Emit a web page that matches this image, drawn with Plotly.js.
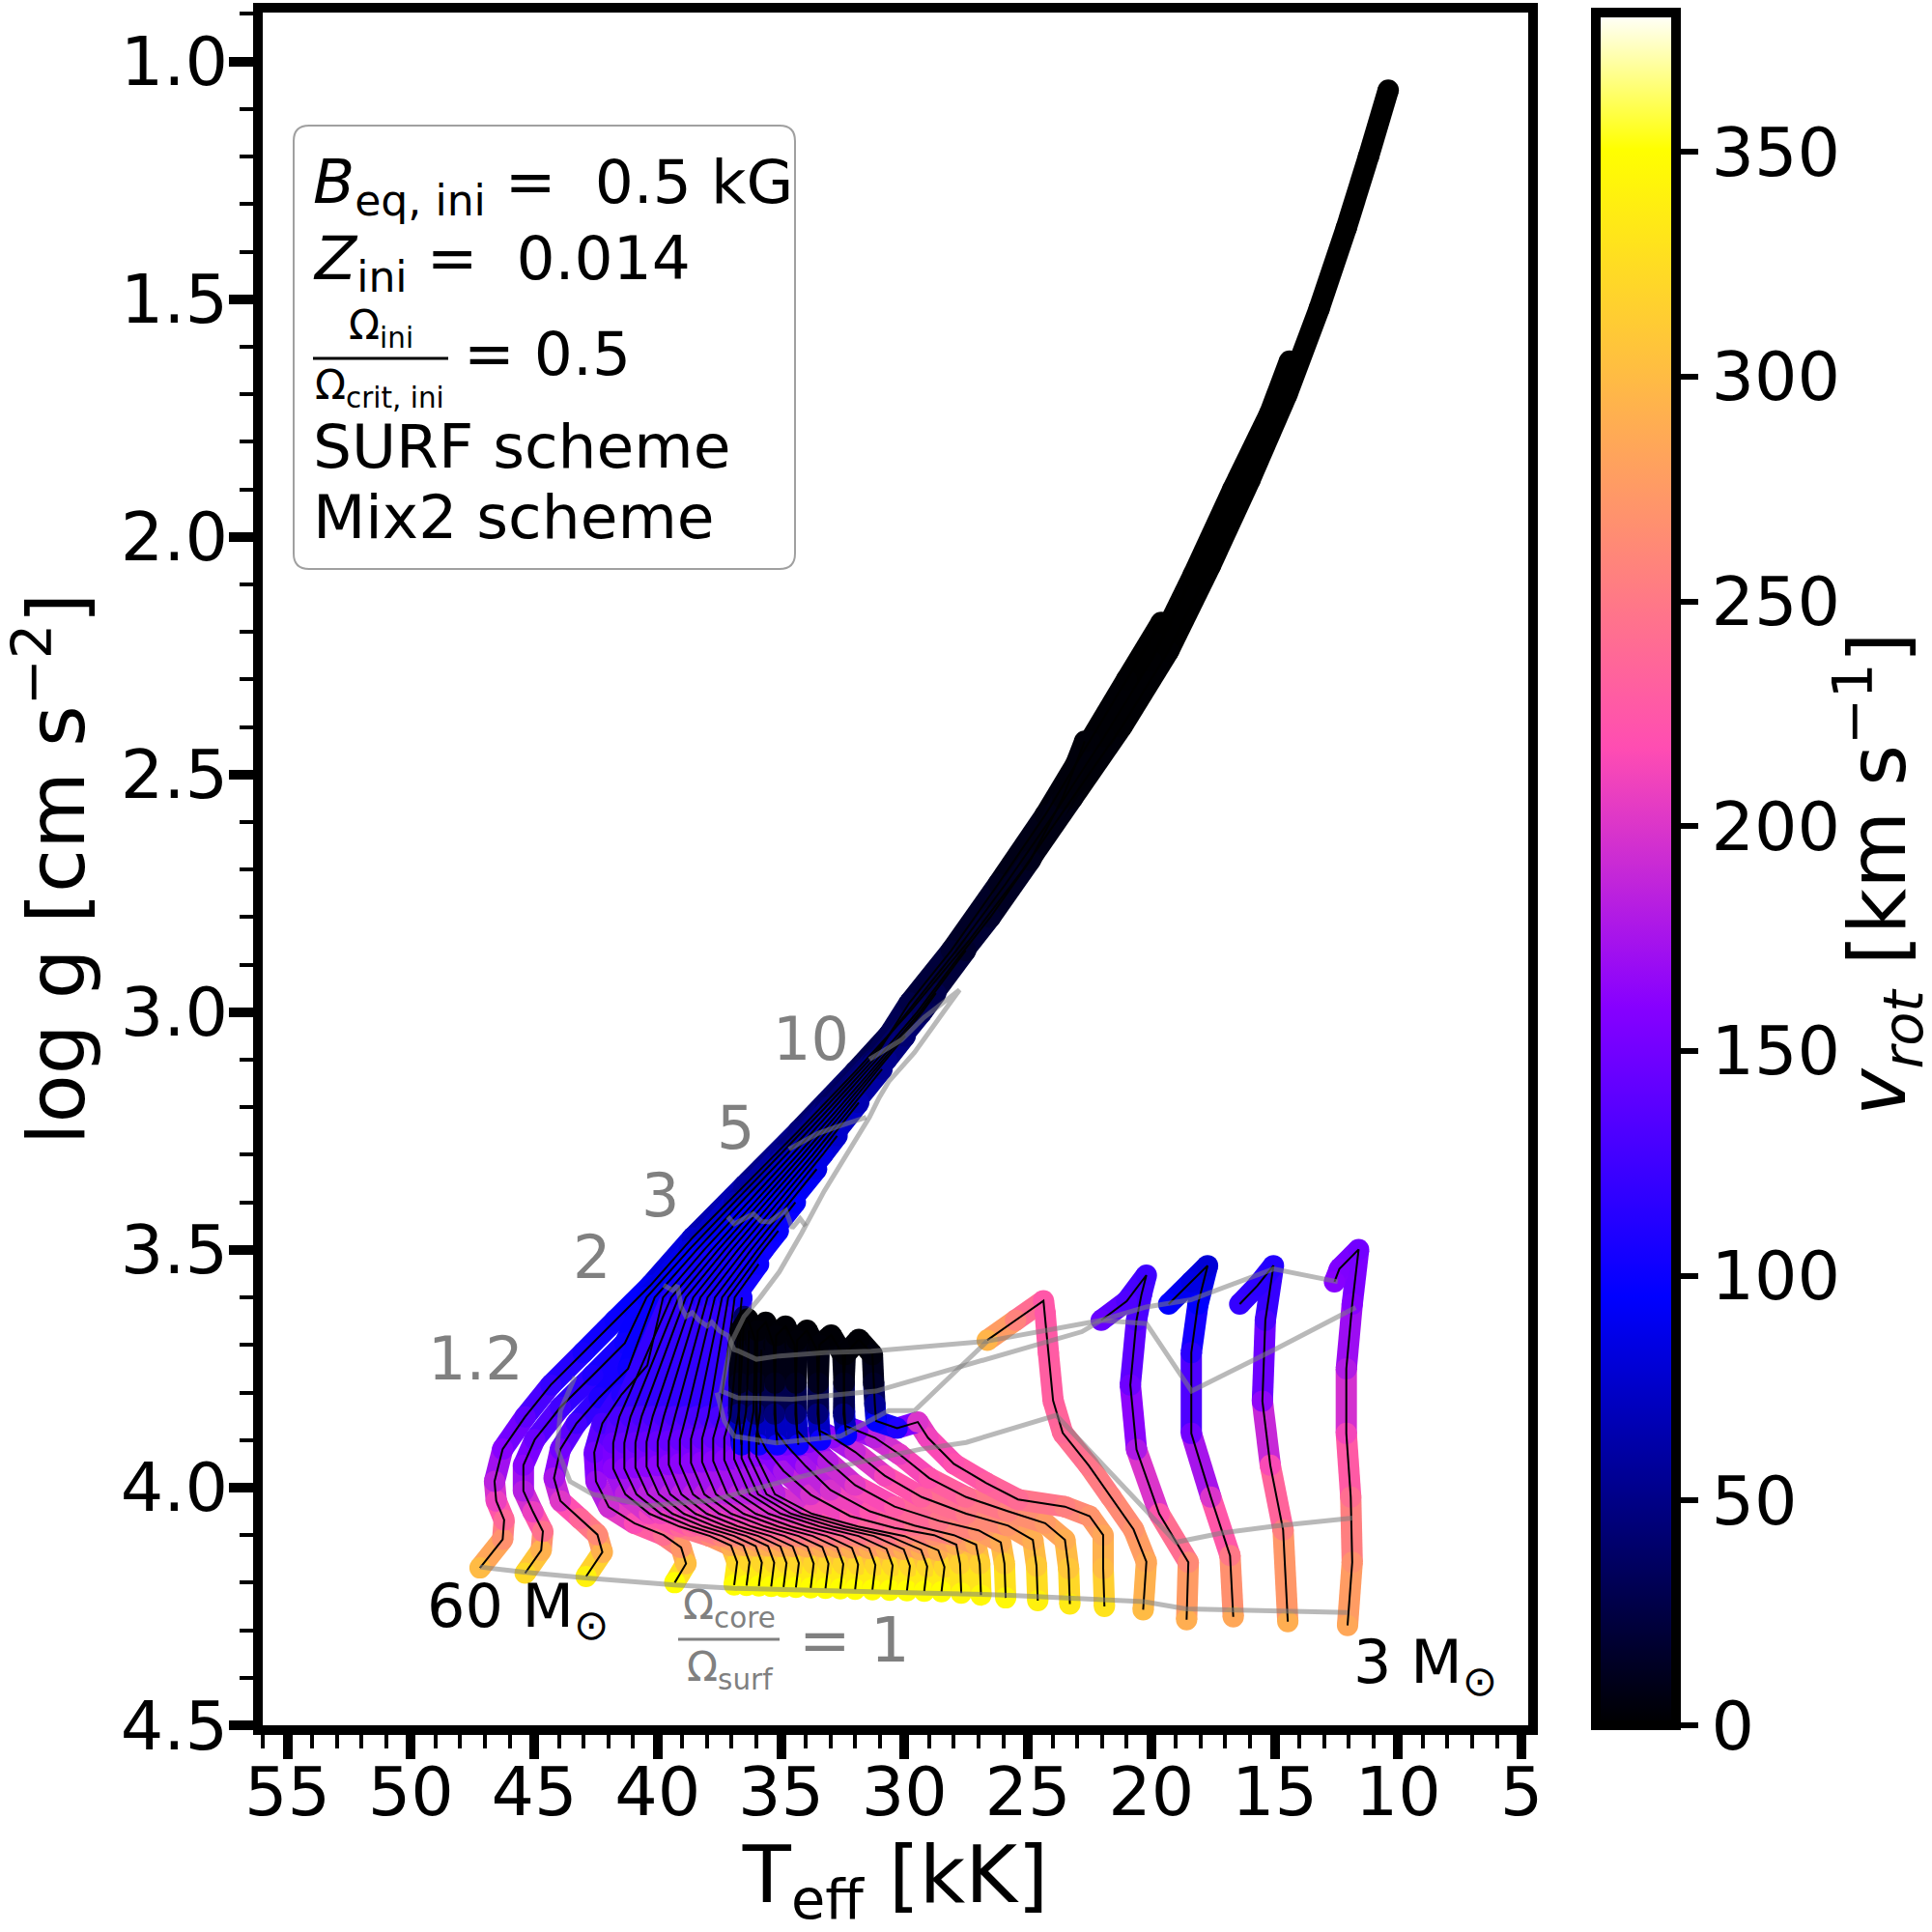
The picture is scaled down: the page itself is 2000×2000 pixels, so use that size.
<!DOCTYPE html>
<html><head><meta charset="utf-8">
<script src="https://cdn.plot.ly/plotly-3.0.1.min.js"></script>
<style>html,body{margin:0;padding:0;background:#fff;}#chart{width:2000px;height:2000px;}</style>
</head><body><div id="chart"></div>
<script>
// ---------------- DATA ----------------
// Evolutionary tracks, most massive (60 Msun) first, 3 Msun last.
const TRACK_LABELS = ['60','S2','S3','S4','d1','d2','d3','d4','d5','d6','d7','d8','d9','d10','d11','d12','d13','d14','d15','h1','h2','h3','h4','h5','h6','L1','L2','L3','L4','3'];
const TEFF = [
 [47.2,46.28,46.22,46.54,46.61,46.28,45.37,44.33,43.02,41.72,40.3,38.6,36.5,34.3,32.0,29.8,27.4,25.2,23.2,21.2,19.3,17.6,16.0,14.5,13.2,12.1,11.2,10.4],
 [45.37,44.72,44.65,45.05,45.44,45.44,44.98,43.94,42.63,41.33,40.45,38.73,36.9,35.03,33.2,31.42,29.9,27.9,25.9,23.9,21.9,20.0,18.3,16.7,15.2,14.4],
 [42.9,42.24,42.44,43.15,43.94,44.2,43.94,43.29,42.37,41.2,40.12,38.42,36.63,34.8,33.01,31.27,29.8,28.1,26.2,24.3,22.5,21.0,19.6],
 [39.31,38.85,39.05,39.76,40.94,41.98,42.5,42.57,42.24,41.46,40.42,39.78,38.12,36.35,34.56,32.83,31.13,29.49,28.04,26.52,24.9,23.6,22.7],
 [36.9,36.78,37.03,37.88,39.11,40.33,41.31,41.8,41.8,41.55,39.45,37.81,36.08,34.33,32.64,30.98,29.38,27.52],
 [36.4,36.28,36.53,37.39,38.63,39.87,40.86,41.35,41.35,41.1,39.15,37.55,35.84,34.13,32.48,30.86,29.29,28.73],
 [35.9,35.78,36.03,36.9,38.15,39.4,40.4,40.9,40.9,40.65,38.86,37.28,35.61,33.93,32.32,30.73,29.97],
 [35.4,35.28,35.53,36.41,37.67,38.94,39.95,40.45,40.45,40.2,38.56,37.02,35.37,33.72,32.16,30.91],
 [34.9,34.78,35.03,35.92,37.2,38.47,39.49,40.0,40.0,39.75,38.27,36.75,35.13,33.52,31.85],
 [34.4,34.28,34.53,35.43,36.72,38.01,39.04,39.55,39.55,39.3,37.98,36.48,34.89,33.32,32.73],
 [33.8,33.68,33.93,34.86,36.19,37.51,38.57,39.1,39.1,38.85,37.68,36.22,34.65,33.56],
 [33.2,33.08,33.33,34.29,35.65,37.02,38.11,38.65,38.65,38.4,37.39,35.95,34.42],
 [32.6,32.48,32.73,33.72,35.12,36.52,37.64,38.2,38.2,37.95,37.14,35.72,35.11],
 [32.0,31.88,32.13,33.15,34.59,36.03,37.18,37.75,37.75,37.5,36.88,35.91],
 [31.3,31.18,31.43,32.5,34.0,35.5,36.7,37.3,37.3,37.05,36.59],
 [30.6,30.48,30.73,31.86,33.44,35.01,36.27,36.9,36.9,36.7,36.6,36.5],
 [29.9,29.78,30.03,31.24,32.92,34.59,35.93,36.6,36.6,36.42,36.35,36.3],
 [29.2,29.08,29.33,30.62,32.4,34.17,35.59,36.3,36.3,36.12,36.08,36.05],
 [28.5,28.38,28.63,30.0,31.88,33.75,35.25,36.0,36.0,35.85,35.82,35.8],
 [27.7,27.75,27.9,28.8,30.4,32.2,33.8,34.9,35.6,35.95,35.98,36.0,36.05,36.35,36.65,36.7,36.72,36.6],
 [26.9,26.95,27.1,28.0,29.6,31.4,33.0,34.0,34.8,35.2,35.23,35.25,35.3,35.62,35.95,36.0,36.02,35.9],
 [25.9,25.95,26.1,27.0,28.6,30.4,32.0,33.1,33.9,34.35,34.38,34.4,34.45,34.82,35.2,35.25,35.27,35.15],
 [24.6,24.65,24.8,25.8,27.5,29.3,30.8,32.0,32.9,33.45,33.48,33.5,33.55,33.95,34.35,34.4,34.42,34.3],
 [23.3,23.35,23.5,24.3,25.8,27.5,29.0,30.2,31.2,31.9,32.4,32.43,32.45,32.5,32.97,33.45,33.5,33.52,33.4],
 [21.9,21.95,21.95,22.5,23.5,25.4,26.7,28.0,29.05,29.46,30.3,31.15,31.2,31.25,31.3,31.85,32.4,32.45,32.47,32.35],
 [20.33,20.2,20.72,21.63,22.54,23.59,23.98,24.17,24.3,24.37,25.5,26.65],
 [18.57,18.5,19.68,20.6,20.85,20.6,20.4,20.2,21.0,22.03],
 [16.68,16.81,17.59,18.38,18.38,18.11,17.72,18.38,19.3],
 [14.47,14.66,15.18,15.5,15.38,15.05,15.7,16.42],
 [12.05,11.86,11.92,12.1,12.1,11.86,11.6,12.38,12.58]
];
const LOGG = [
 [4.169,4.109,4.068,4.028,3.987,3.919,3.851,3.784,3.716,3.648,3.575,3.475,3.365,3.25,3.125,3.0,2.85,2.7,2.55,2.4,2.24,2.06,1.88,1.7,1.52,1.35,1.2,1.06],
 [4.18,4.132,4.092,4.051,4.007,3.953,3.899,3.831,3.764,3.696,3.6,3.5,3.4,3.3,3.2,3.1,3.0,2.87,2.73,2.58,2.42,2.26,2.08,1.9,1.74,1.63],
 [4.187,4.136,4.099,4.065,4.028,3.98,3.919,3.865,3.811,3.75,3.6,3.5,3.4,3.3,3.2,3.1,2.98,2.87,2.73,2.585,2.43,2.3,2.18],
 [4.2,4.16,4.126,4.1,4.075,4.041,3.987,3.926,3.865,3.804,3.743,3.6,3.5,3.4,3.3,3.2,3.1,3.0,2.9,2.8,2.68,2.55,2.43],
 [4.205,4.157,4.122,4.102,4.082,4.055,4.014,3.96,3.906,3.851,3.6,3.5,3.4,3.3,3.2,3.1,3.0,2.87],
 [4.206,4.157,4.122,4.102,4.082,4.055,4.014,3.96,3.906,3.851,3.6,3.5,3.4,3.3,3.2,3.1,3.0,2.96],
 [4.207,4.158,4.123,4.102,4.082,4.055,4.014,3.958,3.905,3.85,3.6,3.5,3.4,3.3,3.2,3.1,3.05],
 [4.208,4.158,4.123,4.102,4.082,4.055,4.014,3.956,3.904,3.85,3.6,3.5,3.4,3.3,3.2,3.12],
 [4.209,4.159,4.124,4.102,4.082,4.055,4.014,3.954,3.903,3.85,3.6,3.5,3.4,3.3,3.19],
 [4.21,4.159,4.124,4.102,4.082,4.055,4.014,3.952,3.902,3.85,3.6,3.5,3.4,3.3,3.26],
 [4.211,4.16,4.125,4.102,4.082,4.055,4.014,3.95,3.9,3.85,3.6,3.5,3.4,3.33],
 [4.212,4.16,4.125,4.102,4.082,4.055,4.014,3.948,3.898,3.85,3.6,3.5,3.4],
 [4.213,4.161,4.126,4.102,4.082,4.055,4.014,3.946,3.897,3.85,3.6,3.5,3.46],
 [4.214,4.162,4.127,4.102,4.082,4.055,4.014,3.944,3.896,3.85,3.6,3.53],
 [4.215,4.163,4.128,4.102,4.082,4.055,4.014,3.942,3.895,3.85,3.6],
 [4.216,4.164,4.129,4.102,4.082,4.055,4.014,3.94,3.894,3.84,3.74,3.64],
 [4.217,4.165,4.13,4.102,4.082,4.055,4.014,3.938,3.893,3.84,3.76,3.67],
 [4.218,4.166,4.131,4.102,4.082,4.055,4.014,3.936,3.892,3.84,3.77,3.69],
 [4.219,4.167,4.132,4.102,4.082,4.055,4.014,3.934,3.891,3.84,3.78,3.71],
 [4.222,4.16,4.12,4.10,4.085,4.06,4.015,3.965,3.92,3.885,3.845,3.78,3.69,3.645,3.67,3.78,3.845,3.91],
 [4.226,4.16,4.12,4.10,4.08,4.05,4.005,3.955,3.91,3.882,3.845,3.78,3.70,3.652,3.67,3.78,3.845,3.91],
 [4.232,4.16,4.115,4.09,4.07,4.04,3.995,3.945,3.905,3.88,3.845,3.78,3.70,3.66,3.68,3.78,3.845,3.91],
 [4.238,4.165,4.11,4.08,4.055,4.02,3.975,3.925,3.895,3.88,3.845,3.78,3.71,3.669,3.69,3.78,3.845,3.91],
 [4.245,4.17,4.11,4.075,4.05,4.02,3.98,3.93,3.895,3.88,3.87,3.84,3.78,3.72,3.679,3.70,3.78,3.845,3.90],
 [4.25,4.17,4.10,4.06,4.04,4.025,3.99,3.95,3.895,3.862,3.875,3.86,3.825,3.78,3.72,3.688,3.72,3.78,3.845,3.89],
 [4.257,4.156,4.088,4.02,3.953,3.885,3.817,3.716,3.634,3.607,3.648,3.69],
 [4.278,4.157,4.055,3.92,3.784,3.648,3.594,3.553,3.608,3.648],
 [4.272,4.143,4.02,3.886,3.716,3.614,3.533,3.567,3.614],
 [4.282,4.089,3.953,3.818,3.648,3.533,3.575,3.614],
 [4.29,4.157,4.02,3.886,3.75,3.614,3.499,3.54,3.567]
];
const VROT = [
 [300,268,238,208,185,160,140,120,106,100,92,75,58,45,34,25,16,9,5,2,1,0,0,0,0,0,0,0],
 [322,292,245,208,182,162,146,126,110,102,95,82,66,52,40,30,22,14,8,4,2,1,0,0,0,0],
 [340,292,262,236,202,176,150,128,110,102,97,88,74,60,47,36,26,18,11,6,3,1,0],
 [350,302,272,242,216,194,170,150,130,112,103,98,92,80,66,54,42,32,23,16,10,5,3],
 [350,320,290,262,236,210,185,163,145,130,108,98,86,72,58,42,28,16],
 [350,320,290,262,236,210,185,163,145,130,108,99,88,76,62,47,34,28],
 [350,320,290,262,236,210,185,163,145,130,108,100,90,79,66,52,42],
 [350,320,290,262,236,210,185,163,145,130,108,101,92,82,68,54],
 [350,320,290,262,236,210,185,163,145,130,108,102,94,82,66],
 [350,320,290,262,236,210,185,163,145,130,108,102,96,85,76],
 [350,320,290,262,236,210,185,163,145,130,108,103,97,86],
 [350,320,290,262,236,210,185,163,145,130,108,103,94],
 [350,320,290,262,236,210,185,163,145,130,108,102,98],
 [350,320,290,262,236,210,185,163,145,130,108,100],
 [350,320,290,262,236,210,185,163,145,130,105],
 [350,320,290,262,236,210,185,163,145,125,85,40],
 [350,320,290,262,236,210,185,163,145,120,70,25],
 [350,320,290,262,236,210,185,163,145,115,55,12],
 [350,320,290,262,236,210,185,163,145,110,45,6],
 [345,315,290,268,245,222,198,175,150,120,70,15,4,2,3,12,45,100],
 [345,315,290,268,245,222,198,175,150,120,70,15,4,2,3,12,45,100],
 [345,312,288,268,248,226,204,182,158,120,70,15,4,2,3,12,45,100],
 [340,310,290,272,252,232,212,190,165,120,70,15,4,2,3,12,45,100],
 [335,308,290,275,258,240,222,205,185,160,115,70,15,5,2,3,12,45,100],
 [330,300,285,270,255,240,230,220,210,200,110,95,55,15,5,2,3,12,45,95],
 [300,285,270,258,248,238,232,228,225,225,258,295],
 [290,262,222,178,148,132,127,125,133,145],
 [285,250,200,150,115,95,80,85,95],
 [290,255,215,165,130,112,116,120],
 [285,268,242,212,180,160,150,156,160]
];
// Omega_core / Omega_surf iso-lines (grey)
const ISO_TEFF = [
 [47.2,45.4,42.9,39.3,36.9,33.0,29.0,25.9,21.9,20.3,18.6,16.7,14.5,12.05],
 [43.35,43.94,44.07,43.55,42.63,40.42,37.81,35.2,32.6,29.33,27.5,23.85,19.0,17.1,14.98,11.85],
 [39.76,39.4,39.2,39.05,38.85,38.6,38.33,38.0,37.81,37.5,37.16,36.9,36.76,36.0,35.07,33.24,31.35,26.65,22.03,20.2,18.4,15.05,12.45],
 [37.16,36.9,36.12,35.8,35.47,34.81,34.55,34.23,34.0],
 [34.68,33.51,32.73,31.55],
 [31.42,30.12,29.21,27.77,28.29,29.6,30.64,31.03,31.42,32.2,33.25,34.16,35.07,35.85,36.5,37.03,37.35,37.42,36.76,34.55,32.59,31.16,22.81,22.03,20.2,18.37,14.98,11.72],
 [37.6,37.3,36.9,35.2,32.59,30.64,29.59,26.65]
];
const ISO_LOGG = [
 [4.167,4.178,4.19,4.205,4.212,4.218,4.222,4.226,4.235,4.24,4.255,4.258,4.26,4.263],
 [3.767,3.838,3.919,3.987,4.014,4.038,4.027,3.99,3.955,3.919,3.905,3.848,4.115,4.095,4.081,4.064],
 [3.574,3.585,3.575,3.62,3.64,3.632,3.648,3.66,3.652,3.67,3.68,3.71,3.712,3.73,3.723,3.716,3.713,3.692,3.648,3.62,3.605,3.54,3.567],
 [3.43,3.445,3.424,3.44,3.441,3.417,3.454,3.434,3.45],
 [3.288,3.255,3.241,3.221],
 [3.099,3.058,3.011,2.953,2.99,3.085,3.146,3.18,3.221,3.288,3.376,3.464,3.546,3.6,3.64,3.696,3.77,3.797,3.811,3.814,3.804,3.797,3.672,3.648,3.655,3.797,3.709,3.621],
 [3.80,3.86,3.892,3.906,3.892,3.838,3.838,3.692]
];
const ISO_LABEL_TEXT = ['10','5','3','2','1.2'];
const ISO_LABEL_TEFF = [33.79,36.84,39.88,42.67,47.36];
const ISO_LABEL_LOGG = [3.056,3.243,3.385,3.515,3.728];
const X_TICKS = [55,50,45,40,35,30,25,20,15,10,5];
const Y_TICKS = [1.0,1.5,2.0,2.5,3.0,3.5,4.0,4.5];
const CBAR_TICKS = [0,50,100,150,200,250,300,350];
const VMAX = 381;

// gnuplot2 colour map
const CS_STOPS = [[0,[0,0,0]],[0.0625,[0,0,64]],[0.125,[0,0,128]],[0.1875,[0,0,191]],[0.25,[0,0,255]],[0.30,[40,0,255]],[0.35,[80,0,255]],[0.42,[135,0,255]],[0.46,[167,20,235]],[0.5,[199,41,214]],[0.54,[231,61,194]],[0.5706,[255,77,178]],[0.6,[255,92,163]],[0.65,[255,117,138]],[0.7,[255,143,112]],[0.75,[255,168,87]],[0.8,[255,194,61]],[0.85,[255,219,36]],[0.92,[255,255,0]],[0.96,[255,255,128]],[1,[255,255,255]]];
const CS = CS_STOPS.map(s => [s[0], 'rgb(' + s[1].join(',') + ')']);
function colorAt(v){
  const t = Math.max(0, Math.min(1, v / VMAX));
  for (let i = 1; i < CS_STOPS.length; i++) {
    if (t <= CS_STOPS[i][0]) {
      const a = CS_STOPS[i-1], b = CS_STOPS[i];
      const f = (t - a[0]) / (b[0] - a[0]);
      return 'rgb(' + [0,1,2].map(j => Math.round(a[1][j] + (b[1][j]-a[1][j]) * f)).join(',') + ')';
    }
  }
  return 'rgb(255,255,255)';
}

// ---------------- LAYOUT GEOMETRY ----------------
const PL = 272, PR = 1582, PT = 13, PB = 1786;
const px = p => (p - PL) / (PR - PL);
const py = p => (PB - p) / (PB - PT);
const FONT = 'DejaVu Sans';
const GREY = 'rgb(128,128,128)';

// ---------------- TRACES ----------------
const traces = [];
const W = 22;
for (let k = 0; k < TEFF.length; k++) {
  const x = TEFF[k], y = LOGG[k], v = VROT[k];
  for (let i = 0; i < x.length - 1; i++) {
    traces.push({type:'scatter', mode:'lines', x:[x[i], x[i+1]], y:[y[i], y[i+1]],
      line:{color: colorAt((v[i] + v[i+1]) / 2), width: W}, hoverinfo:'skip', showlegend:false});
  }
  traces.push({type:'scatter', mode:'markers', x:x, y:y, name:TRACK_LABELS[k],
    marker:{size:W, color:v, coloraxis:'coloraxis', line:{width:0}}, hoverinfo:'skip', showlegend:false});
}
for (let k = 0; k < TEFF.length; k++) {
  traces.push({type:'scatter', mode:'lines', x:TEFF[k], y:LOGG[k], line:{color:'black', width:2},
    hoverinfo:'skip', showlegend:false});
}
for (let k = 0; k < ISO_TEFF.length; k++) {
  traces.push({type:'scatter', mode:'lines', x:ISO_TEFF[k], y:ISO_LOGG[k],
    line:{color:'rgba(128,128,128,0.55)', width:5}, hoverinfo:'skip', showlegend:false});
}

// ---------------- ANNOTATIONS & SHAPES ----------------
const ann = [];
for (let i = 0; i < ISO_LABEL_TEXT.length; i++) {
  ann.push({x:ISO_LABEL_TEFF[i], y:ISO_LABEL_LOGG[i], xref:'x', yref:'y', text:ISO_LABEL_TEXT[i],
    showarrow:false, xanchor:'center', yanchor:'middle', font:{family:FONT, size:62, color:GREY}});
}
ann.push({x:49.41, y:4.258, xref:'x', yref:'y', text:'60 M<sub>⊙</sub>', showarrow:false,
  xanchor:'left', yanchor:'middle', font:{family:FONT, size:62, color:'black'}});
ann.push({x:11.89, y:4.376, xref:'x', yref:'y', text:'3 M<sub>⊙</sub>', showarrow:false,
  xanchor:'left', yanchor:'middle', font:{family:FONT, size:62, color:'black'}});
// Omega_core/Omega_surf = 1 label
ann.push({x:px(755), y:py(1664), xref:'paper', yref:'paper', text:'Ω<sub>core</sub>', showarrow:false,
  xanchor:'center', yanchor:'middle', font:{family:FONT, size:42, color:GREY}});
ann.push({x:px(755), y:py(1728), xref:'paper', yref:'paper', text:'Ω<sub>surf</sub>', showarrow:false,
  xanchor:'center', yanchor:'middle', font:{family:FONT, size:42, color:GREY}});
ann.push({x:px(825), y:py(1698), xref:'paper', yref:'paper', text:'= 1', showarrow:false,
  xanchor:'left', yanchor:'middle', font:{family:FONT, size:64, color:GREY}});
// info box text
const BOXFONT = 63;
ann.push({x:px(322), y:py(193), xref:'paper', yref:'paper', text:'<i>B</i><sub>eq, ini</sub> =\u00a0 0.5 kG',
  showarrow:false, xanchor:'left', yanchor:'middle', font:{family:FONT, size:BOXFONT, color:'black'}});
ann.push({x:px(322), y:py(271), xref:'paper', yref:'paper', text:'<i>Z</i><sub>ini</sub> =\u00a0 0.014',
  showarrow:false, xanchor:'left', yanchor:'middle', font:{family:FONT, size:BOXFONT, color:'black'}});
ann.push({x:px(394), y:py(340), xref:'paper', yref:'paper', text:'Ω<sub>ini</sub>',
  showarrow:false, xanchor:'center', yanchor:'middle', font:{family:FONT, size:42, color:'black'}});
ann.push({x:px(393), y:py(401), xref:'paper', yref:'paper', text:'Ω<sub>crit, ini</sub>',
  showarrow:false, xanchor:'center', yanchor:'middle', font:{family:FONT, size:42, color:'black'}});
ann.push({x:px(478), y:py(366), xref:'paper', yref:'paper', text:'= 0.5',
  showarrow:false, xanchor:'left', yanchor:'middle', font:{family:FONT, size:BOXFONT, color:'black'}});
ann.push({x:px(322), y:py(463), xref:'paper', yref:'paper', text:'SURF scheme',
  showarrow:false, xanchor:'left', yanchor:'middle', font:{family:FONT, size:BOXFONT, color:'black'}});
ann.push({x:px(322), y:py(535), xref:'paper', yref:'paper', text:'Mix2 scheme',
  showarrow:false, xanchor:'left', yanchor:'middle', font:{family:FONT, size:BOXFONT, color:'black'}});
// colour-bar title (rotated)
ann.push({x:px(1944), y:py(905), xref:'paper', yref:'paper', text:'<i>v<sub>rot</sub></i> [km s<sup>−1</sup>]',
  textangle:-90, showarrow:false, xanchor:'center', yanchor:'middle', font:{family:FONT, size:82, color:'black'}});

function roundRect(l, t, r, b, rad){
  const P = (a, c) => px(a).toFixed(5) + ',' + py(c).toFixed(5);
  return 'M' + P(l+rad, t) + ' L' + P(r-rad, t) + ' Q' + P(r, t) + ' ' + P(r, t+rad) +
    ' L' + P(r, b-rad) + ' Q' + P(r, b) + ' ' + P(r-rad, b) +
    ' L' + P(l+rad, b) + ' Q' + P(l, b) + ' ' + P(l, b-rad) +
    ' L' + P(l, t+rad) + ' Q' + P(l, t) + ' ' + P(l+rad, t) + ' Z';
}
const shapes = [
  {type:'path', xref:'paper', yref:'paper', path:roundRect(304,130,823,589,16),
   line:{color:'rgba(150,150,150,0.9)', width:2}, fillcolor:'rgba(255,255,255,0.8)', layer:'above'},
  {type:'line', xref:'paper', yref:'paper', x0:px(324), x1:px(464), y0:py(371), y1:py(371),
   line:{color:'black', width:3}},
  {type:'line', xref:'paper', yref:'paper', x0:px(702), x1:px(807), y0:py(1697), y1:py(1697),
   line:{color:GREY, width:3}}
];

const layout = {
  width:2000, height:2000,
  margin:{l:PL, r:2000-PR, t:PT, b:2000-PB, pad:0, autoexpand:false},
  paper_bgcolor:'white', plot_bgcolor:'white',
  font:{family:FONT, color:'black', size:70},
  showlegend:false,
  xaxis:{range:[56,4.73], tickmode:'array', tickvals:X_TICKS, ticktext:X_TICKS.map(String),
    ticks:'outside', ticklen:25, tickwidth:10, tickcolor:'black', tickfont:{family:FONT, size:70, color:'black'},
    ticklabelstandoff:-26, automargin:false,
    showline:true, linewidth:10, linecolor:'black', mirror:true, showgrid:false, zeroline:false,
    minor:{dtick:1, tick0:0, ticks:'outside', ticklen:14, tickwidth:4, tickcolor:'black', showgrid:false},
    title:{text:'T<sub>eff</sub> [kK]', font:{family:FONT, size:82, color:'black'}, standoff:46}},
  yaxis:{range:[4.5,0.897], tickmode:'array', tickvals:Y_TICKS, ticktext:Y_TICKS.map(t => t.toFixed(1)),
    ticks:'outside', ticklen:25, tickwidth:10, tickcolor:'black', tickfont:{family:FONT, size:70, color:'black'},
    ticklabelstandoff:-13, automargin:false,
    showline:true, linewidth:10, linecolor:'black', mirror:true, showgrid:false, zeroline:false,
    minor:{dtick:0.1, tick0:0, ticks:'outside', ticklen:14, tickwidth:4, tickcolor:'black', showgrid:false},
    title:{text:'log g [cm s<sup>−2</sup>]', font:{family:FONT, size:82, color:'black'}, standoff:31}},
  coloraxis:{colorscale:CS, cmin:0, cmax:VMAX,
    colorbar:{x:px(1652), xanchor:'left', xref:'paper', y:0.5, yanchor:'middle', len:1, lenmode:'fraction',
      thickness:83, thicknessmode:'pixels', xpad:0, ypad:0, outlinewidth:10, outlinecolor:'black',
      ticks:'outside', ticklen:18, tickwidth:6, tickcolor:'black', tickmode:'array', tickvals:CBAR_TICKS,
      tickfont:{family:FONT, size:70, color:'black'}, title:{text:''}}},
  annotations:ann,
  shapes:shapes
};
Plotly.newPlot('chart', traces, layout, {staticPlot:true, displayModeBar:false});
</script>
</body></html>
